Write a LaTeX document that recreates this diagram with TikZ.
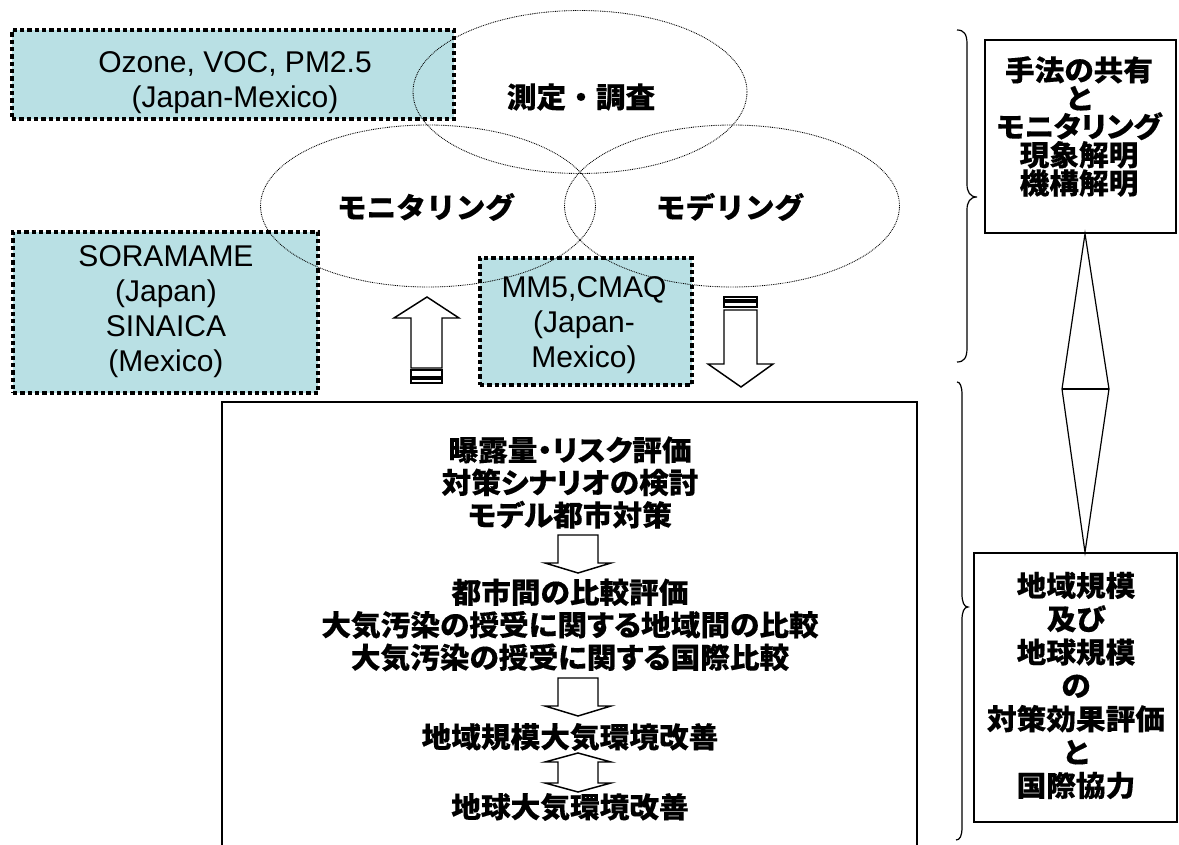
\documentclass[tikz,border=0pt]{standalone}
\usepackage{fontspec}
\setmainfont{Liberation Sans}
% Japanese: proportional (palt) and full-width variants
\newfontfamily\jp{Noto Sans CJK JP}[RawFeature=+palt, FakeStretch=1.04, FakeBold=0.3]
\newfontfamily\jpw{Noto Sans CJK JP}[FakeStretch=1.04, FakeBold=0.3]
\usetikzlibrary{shapes.geometric}
\definecolor{paleteal}{RGB}{185,224,228}
\tikzset{
  dbox/.style={draw=black, fill=paleteal, line width=3.2pt,
               dash pattern=on 3.2pt off 2.3pt, inner sep=0pt},
  oval/.style={ellipse, draw, line width=0.65pt, dash pattern=on 0.65pt off 0.7pt,
               inner sep=0pt},
  plainbox/.style={draw, line width=1.1pt, inner sep=0pt},
  blk/.style={draw, line width=1.1pt, fill=white, line join=miter},
  en/.style={font=\fontsize{22.5pt}{26.25pt}\selectfont, align=center, inner sep=0pt},
  jpo/.style={font=\jpw\bfseries\fontsize{21.4pt}{24pt}\selectfont, inner sep=0pt},
  jpb/.style={font=\jp\bfseries\fontsize{21.4pt}{24.4pt}\selectfont, align=center, inner sep=0pt},
}
\begin{document}
\begin{tikzpicture}[x=0.75pt, y=-0.75pt]
\useasboundingbox (0,0) rectangle (1179,845);

% shaded example boxes
\node[dbox, minimum width=442*0.75pt, minimum height=89*0.75pt] (ozone) at (233,74.5) {};
\node[dbox, minimum width=305*0.75pt, minimum height=161*0.75pt] (sora) at (165.5,312.5) {};
\node[dbox, minimum width=212*0.75pt, minimum height=127*0.75pt] (mm) at (586,321.5) {};

\node[en] (tozone) at (235,83) {Ozone, VOC, PM2.5\\(Japan-Mexico)};
\node[en] (tsora) at (166,312) {SORAMAME\\(Japan)\\SINAICA\\(Mexico)};
\node[en] (tmm) at (584,325) {MM5,CMAQ\\(Japan-\\Mexico)};

% three overlapping activity ovals
\node[oval, minimum width=334*0.75pt, minimum height=163*0.75pt] (meas) at (580,92) {};
\node[oval, minimum width=335*0.75pt, minimum height=162*0.75pt] (moni) at (428,206) {};
\node[oval, minimum width=335*0.75pt, minimum height=162*0.75pt] (mode) at (732,206) {};
\node[jpo] (tmeas) at (581,97) {測定・調査};
\node[jpo] (tmoni) at (426,207) {モニタリング};
\node[jpo] (tmode) at (730,207) {モデリング};

% striped block arrows between ovals and the lower panel
\draw[blk] (411,368) -- (411,318) -- (394,318) -- (427,297) -- (459,318)
           -- (442,318) -- (442,368) -- cycle;
\draw[blk] (411,370) rectangle (442,377);
\draw[blk] (411,379) rectangle (442,383);
\draw[blk] (724,310) -- (757,310) -- (757,364) -- (773,364) -- (741,387)
           -- (708,364) -- (724,364) -- cycle;
\draw[blk] (724,302) rectangle (757,307);
\draw[blk] (724,297) rectangle (757,300);

% lower panel (open at the bottom)
\draw[line width=1.3pt] (222,850) |- (917,402) -- (917,850);

\node[jpb] (b1) at (570,482.5) {曝露量・リスク評価\\対策シナリオの検討\\モデル都市対策};
\node[jpb] (b2) at (570,625) {都市間の比較評価\\大気汚染の授受に関する地域間の比較\\大気汚染の授受に関する国際比較};
\node[jpb] (b3) at (570,737) {地域規模大気環境改善};
\node[jpb] (b4) at (570,807) {地球大気環境改善};

\draw[blk] (558,535) -- (598,535) -- (598,563) -- (611,563) -- (578,573)
           -- (545,563) -- (558,563) -- cycle;
\draw[blk] (558,678) -- (598,678) -- (598,706) -- (611,706) -- (578,716)
           -- (545,706) -- (558,706) -- cycle;
\draw[blk] (578,753) -- (611,762) -- (598,762) -- (598,783) -- (611,783)
           -- (578,792) -- (545,783) -- (558,783) -- (558,762) -- (545,762) -- cycle;

% braces
\draw[line width=0.9pt] (957,30) .. controls (964,30) and (967,34) .. (967,44)
  -- (967,184) .. controls (967,192) and (970,197) .. (977,197)
  .. controls (970,197) and (967,202) .. (967,210)
  -- (967,348) .. controls (967,358) and (964,362) .. (957,362);
\draw[line width=0.9pt] (957,382) .. controls (960,382) and (962,386) .. (962,395)
  -- (962,594) .. controls (962,602) and (964,607) .. (968,607)
  .. controls (964,607) and (962,612) .. (962,620)
  -- (962,827) .. controls (962,836) and (960,840) .. (956,840);

% summary boxes and the link between them
\node[plainbox, minimum width=191*0.75pt, minimum height=193*0.75pt] (rtop) at (1080.5,136.5) {};
\node[plainbox, minimum width=203*0.75pt, minimum height=269*0.75pt] (rbot) at (1075.5,687.5) {};
\node[jpb, font=\jp\bfseries\fontsize{21.4pt}{21.2pt}\selectfont] (trtop) at (1079,126.5)
  {手法の共有\\と\\モニタリング\\現象解明\\機構解明};
\node[jpb, font=\jp\bfseries\fontsize{21.4pt}{25pt}\selectfont] (trbot) at (1076,685.5)
  {地域規模\\及び\\地球規模\\の\\対策効果評価\\と\\国際協力};

\path (rtop.south) ++(4.5,0) coordinate (dtop);
\path (rbot.north) ++(9.5,0) coordinate (dbot);
\draw[line width=0.9pt, line join=miter] (dtop) -- (1109,389) -- (dbot) -- (1062,389) -- cycle;
\draw[line width=0.9pt] (1062,389) -- (1109,389);
\end{tikzpicture}
\end{document}
